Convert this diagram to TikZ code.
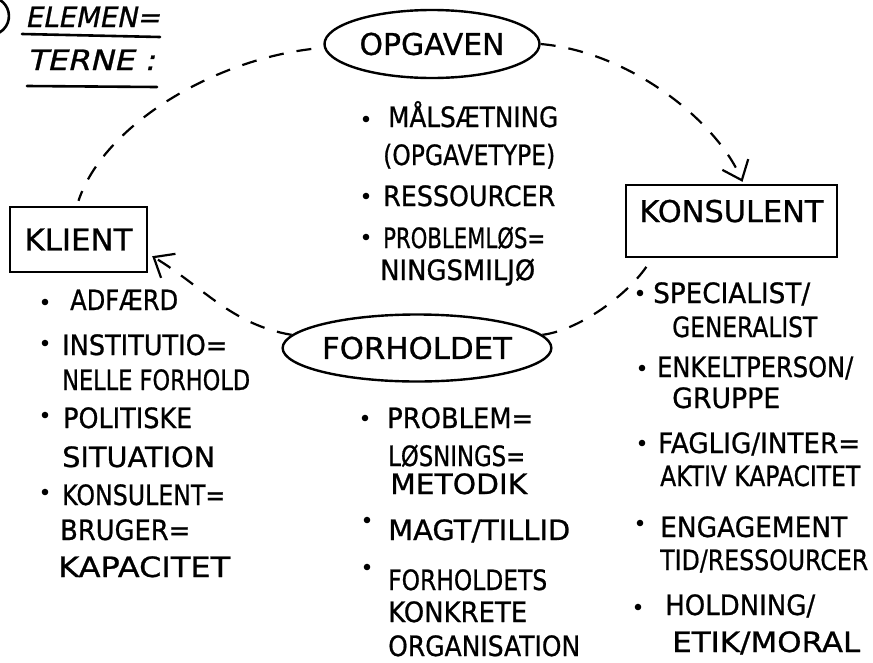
\documentclass[tikz,border=0pt]{standalone}
\usepackage{fontspec}
\setmainfont{DejaVu Sans}
\newfontfamily\hand[FakeBold=0.8]{DejaVu Sans}
\newfontfamily\handit[FakeBold=0.8,FakeSlant=0.2]{DejaVu Sans}
\usetikzlibrary{shapes.geometric,arrows.meta,calc}
\newcommand{\fw}[2]{\resizebox{#1pt}{\height}{#2}}
\begin{document}
\begin{tikzpicture}[x=1pt,y=-1pt,
  itm/.style={anchor=base west, inner sep=0pt, font=\hand\fontsize{28}{32}\selectfont},
  hd/.style={anchor=base west, inner sep=0pt, font=\handit\fontsize{28}{32}\selectfont},
  oval/.style={ellipse, draw, line width=2.4pt, inner sep=0pt, font=\hand\fontsize{30}{34}\selectfont},
  box/.style={rectangle, draw, line width=2.4pt, inner sep=0pt, font=\hand\fontsize{30}{34}\selectfont},
  conn/.style={line width=2.2pt, dash pattern=on 15pt off 13pt},
  tipv/.style={-{Straight Barb[length=17pt,width=28pt,line width=2.2pt]}},
  bul/.style={line width=1.8pt, fill=black},
  ul/.style={line width=2.6pt, line cap=round}]
\fill[white] (0,0) rectangle (873,662);
\useasboundingbox (0,0) rectangle (873,662);

% header
\draw[line width=2.6pt] (0,0) arc[start angle=-58, end angle=60, radius=19];
\node[hd] (h1) at (25,27) {\fw{135}{ELEMEN=}};
\node[hd] (h2) at (27,70) {\fw{128}{TERNE :}};
\draw[ul] (22,34) -- (160,37);
\draw[ul] (27,86) -- (157,87);

% main elements
\node[oval, minimum width=215, minimum height=68] (opg) at (432,44) {\fw{145}{OPGAVEN}};
\node[oval, minimum width=249, minimum height=67] (forh) at (417,348) {\fw{190}{FORHOLDET}};
\node[box, minimum width=137, minimum height=65] (kli) at (78.5,239.5) {\fw{108}{KLIENT}};
\node[box, minimum width=211, minimum height=72, text height=22pt, text depth=20pt] (kon) at (731.5,221) {\fw{184}{KONSULENT}};

% connectors
\draw[conn] ([xshift=-12pt,yshift=-5pt]opg.west) .. controls +(-100,12) and +(25,-75) .. ([yshift=5pt]kli.north);
\draw[conn,tipv] (opg.east) .. controls +(90,8) and +(-25,-60) .. ([xshift=11pt,yshift=2pt]kon.north);
\draw[conn] (forh.6) .. controls +(40,-5) and +(-15,30) .. ([xshift=-80pt]kon.south);
\draw[conn,tipv] (forh.174) .. controls +(-60,-10) and +(50,30) .. ($(kli.south east)+(4,-17)$);

% OPGAVEN list
\draw[bul] (366,119) circle (2.3);
\node[itm] (o1) at (388,127) {\fw{170}{MÅLSÆTNING}};
\node[itm] (o2) at (383,165) {\fw{172}{(OPGAVETYPE)}};
\draw[bul] (366,196) circle (2.3);
\node[itm] (o3) at (383,206) {\fw{172}{RESSOURCER}};
\draw[bul] (366,237) circle (2.3);
\node[itm] (o4) at (383,248) {\fw{162}{PROBLEMLØS=}};
\node[itm] (o5) at (380,280) {\fw{155}{NINGSMILJØ}};

% KLIENT list
\draw[bul] (45,302) circle (2.3);
\node[itm] (k1) at (70,310) {\fw{108}{ADFÆRD}};
\draw[bul] (45,343) circle (2.3);
\node[itm] (k2) at (62,355) {\fw{165}{INSTITUTIO=}};
\node[itm] (k3) at (62,390) {\fw{188}{NELLE FORHOLD}};
\draw[bul] (45,415) circle (2.3);
\node[itm] (k4) at (63,428) {\fw{129}{POLITISKE}};
\node[itm] (k5) at (62,467) {\fw{153}{SITUATION}};
\draw[bul] (45,492) circle (2.3);
\node[itm] (k6) at (62,505) {\fw{163}{KONSULENT=}};
\node[itm] (k7) at (60,540) {\fw{130}{BRUGER=}};
\node[itm] (k8) at (58,577) {\fw{172}{KAPACITET}};

% KONSULENT list
\draw[bul] (640,293) circle (2.3);
\node[itm] (c1) at (653,303) {\fw{157}{SPECIALIST/}};
\node[itm] (c2) at (672,337) {\fw{145}{GENERALIST}};
\draw[bul] (642,368) circle (2.3);
\node[itm] (c3) at (657,377) {\fw{196}{ENKELTPERSON/}};
\node[itm] (c4) at (672,408) {\fw{108}{GRUPPE}};
\draw[bul] (642,443) circle (2.3);
\node[itm] (c5) at (658,453) {\fw{202}{FAGLIG/INTER=}};
\node[itm] (c6) at (660,486) {\fw{200}{AKTIV KAPACITET}};
\draw[bul] (640,523) circle (2.3);
\node[itm] (c7) at (660,537) {\fw{187}{ENGAGEMENT}};
\node[itm] (c8) at (660,570) {\fw{208}{TID/RESSOURCER}};
\draw[bul] (638,607) circle (2.3);
\node[itm] (c9) at (665,615) {\fw{150}{HOLDNING/}};
\node[itm] (c10) at (672,652) {\fw{188}{ETIK/MORAL}};

% FORHOLDET list
\draw[bul] (365,418) circle (2.3);
\node[itm] (f1) at (387,428) {\fw{146}{PROBLEM=}};
\node[itm] (f2) at (388,466) {\fw{137}{LØSNINGS=}};
\node[itm] (f3) at (390,494) {\fw{137}{METODIK}};
\draw[bul] (367,520) circle (2.3);
\node[itm] (f4) at (388,540) {\fw{182}{MAGT/TILLID}};
\draw[bul] (367,567) circle (2.3);
\node[itm] (f5) at (388,590) {\fw{159}{FORHOLDETS}};
\node[itm] (f6) at (388,622) {\fw{139}{KONKRETE}};
\node[itm] (f7) at (388,656) {\fw{192}{ORGANISATION}};
\end{tikzpicture}
\end{document}
